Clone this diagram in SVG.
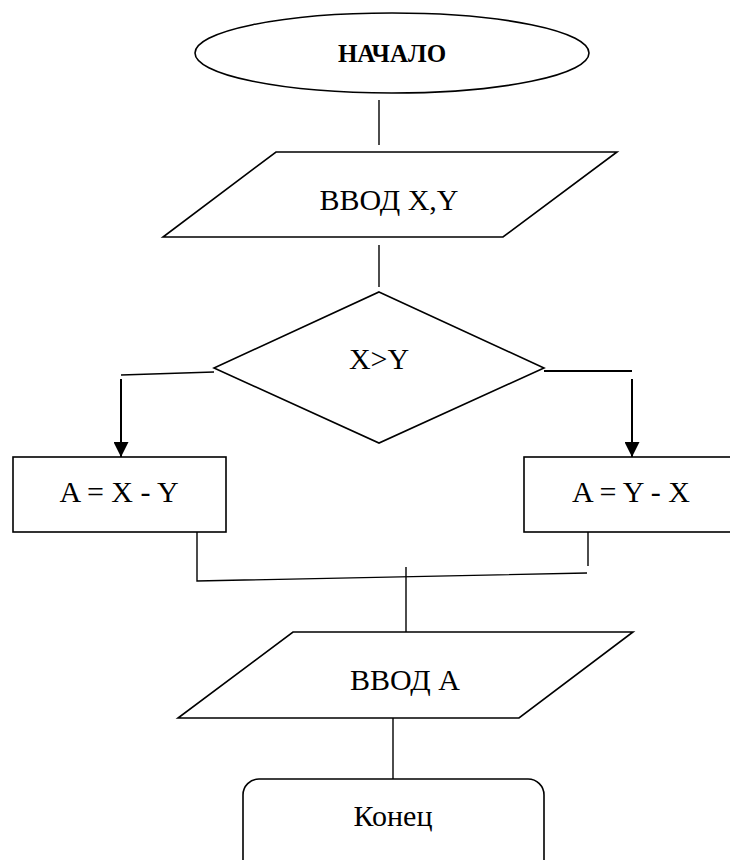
<svg xmlns="http://www.w3.org/2000/svg" width="730" height="860" viewBox="0 0 730 860">
<style>
.s{fill:#fff;stroke:#000;stroke-width:1.6}
.c{fill:none;stroke:#000;stroke-width:1.4}
.a{fill:none;stroke:#000;stroke-width:2}
</style>
<defs>
<marker id="ar" markerWidth="16" markerHeight="15" refX="15" refY="7.5" orient="auto" markerUnits="userSpaceOnUse">
<path d="M0,0 L15,7.5 L0,15 Z" fill="#000"/>
</marker>
</defs>
<g id="connectors">
<line class="c" x1="379" y1="100" x2="379" y2="145"/>
<line class="c" x1="379" y1="245" x2="379" y2="287"/>
<line class="c" x1="214" y1="372" x2="121" y2="375"/>
<line class="a" x1="121" y1="379" x2="121" y2="457" marker-end="url(#ar)"/>
<line class="a" x1="544" y1="371" x2="632" y2="371"/>
<line class="a" x1="632" y1="379" x2="632" y2="457" marker-end="url(#ar)"/>
<polyline class="c" points="197,532 197,581 587,573"/>
<line class="c" x1="588" y1="532" x2="588" y2="566"/>
<line class="c" x1="406" y1="567" x2="406" y2="632"/>
<line class="c" x1="393" y1="716" x2="393" y2="779"/>
</g>
<g id="start">
<ellipse class="s" cx="392" cy="53" rx="197" ry="40"/>
<text x="392" y="62" text-anchor="middle" font-family="Liberation Serif" font-size="25" font-weight="bold">НАЧАЛО</text>
</g>
<g id="input1">
<polygon class="s" points="276,152 617,152 503,237 163,237"/>
<text x="389" y="210" text-anchor="middle" font-family="Liberation Serif" font-size="30">ВВОД X,Y</text>
</g>
<g id="decision">
<polygon class="s" points="379,292 544,368 379,443 214,368"/>
<text x="379" y="369" text-anchor="middle" font-family="Liberation Serif" font-size="30">X&gt;Y</text>
</g>
<g id="left">
<rect class="s" x="13" y="457" width="213" height="75"/>
<text x="119" y="502" text-anchor="middle" font-family="Liberation Serif" font-size="30">A = X - Y</text>
</g>
<g id="right">
<rect class="s" x="524" y="457" width="220" height="75"/>
<text x="631" y="502" text-anchor="middle" font-family="Liberation Serif" font-size="30">A = Y - X</text>
</g>
<g id="input2">
<polygon class="s" points="293,632 633,632 519,718 178,718"/>
<text x="405" y="690" text-anchor="middle" font-family="Liberation Serif" font-size="30">ВВОД А</text>
</g>
<g id="end">
<rect class="s" x="243" y="779" width="301" height="100" rx="16" ry="16"/>
<text x="393" y="826" text-anchor="middle" font-family="Liberation Serif" font-size="30">Конец</text>
</g>
</svg>
